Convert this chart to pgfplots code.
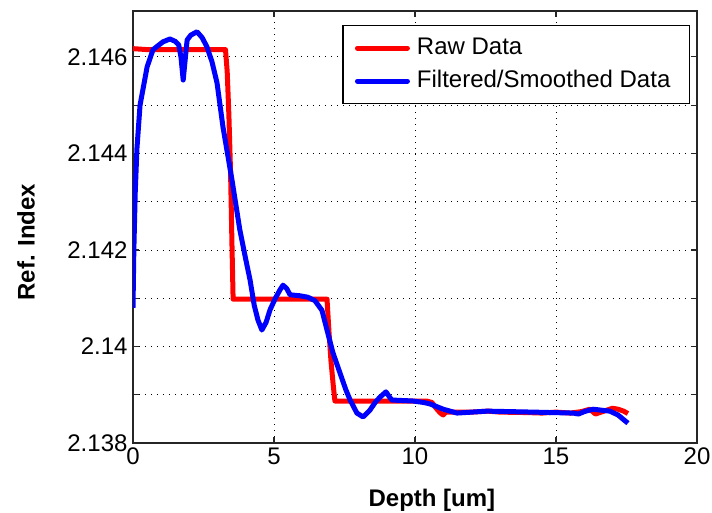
\documentclass[border=0pt]{standalone}
\usepackage{fontspec}
\setmainfont{Liberation Sans}
\setsansfont{Liberation Sans}
\usepackage{pgfplots}
\pgfplotsset{compat=1.18}
\definecolor{mred}{rgb}{1,0,0}
\definecolor{mblue}{rgb}{0,0,1}
\begin{document}
\begin{tikzpicture}
\path[use as bounding box] (-133pt,-70pt) rectangle (579pt,443pt);
\begin{axis}[
  at={(0,0)}, anchor=south west,
  scale only axis, width=564pt, height=432pt,
  xmin=0, xmax=20, ymin=2.138, ymax=2.14695,
  xtick={0,5,10,15,20},
  xticklabels={0,5,10,15,20},
  ytick={2.138,2.139,2.140,2.141,2.142,2.143,2.144,2.145,2.146},
  yticklabels={2.138,,2.14,,2.142,,2.144,,2.146},
  ymajorgrids, xmajorgrids,
  grid style={black, line width=0.8pt, dash pattern=on 1pt off 5pt},
  axis line style={black!85, line width=1.2pt},
  major tick length=6pt,
  tick style={black!85, line width=1.2pt},
  tick align=inside,
  ticklabel style={font=\fontsize{24}{28}\selectfont},
  xticklabel style={yshift=-1pt},
  yticklabel style={xshift=-2pt},
  xlabel={\textbf{Depth [um]}},
  ylabel={\textbf{Ref. Index}},
  label style={font=\fontsize{24}{28}\selectfont},
  xlabel style={at={(axis description cs:0.53,0)}, anchor=base, yshift=-64pt},
  ylabel style={at={(axis description cs:-0.1897,0.465)}, anchor=center},
  legend style={at={(axis description cs:0.9876,0.9676)}, anchor=north east,
    font=\fontsize{24}{28}\selectfont, draw=black, line width=1.2pt,
    inner xsep=12pt, inner ysep=8pt, row sep=4pt,
    nodes={inner xsep=7pt, inner ysep=3.5pt, text height=17pt, text depth=5pt}},
  legend cell align=left,
  legend image code/.code={\draw[#1, line width=5pt, line cap=round] (0pt,0pt) -- (50pt,0pt);},
]
\addplot[mred, line width=5pt, line join=round] coordinates {
(0,2.14617) (0.5,2.14615) (1.5,2.14615) (2.5,2.14615) (3.28,2.14615)
(3.34,2.1457) (3.40,2.1448) (3.46,2.1436) (3.51,2.1421) (3.55,2.14098)
(4.5,2.14098) (5.5,2.14098) (6.88,2.14098)
(6.95,2.1403) (7.02,2.1397) (7.10,2.1392) (7.16,2.13887)
(8,2.13887) (9,2.13887) (10.4,2.13887) (10.6,2.13884)
(10.75,2.13872) (10.9,2.13862) (11.0,2.13858) (11.1,2.13864)
(12,2.13864) (12.6,2.13866) (13,2.13864) (14,2.13863) (14.5,2.13862)
(15,2.13864) (15.5,2.13862) (15.9,2.13865) (16.2,2.13870) (16.4,2.13860)
(16.6,2.13864) (16.8,2.13868) (17.0,2.13872) (17.2,2.13870) (17.4,2.13866) (17.55,2.13861)
};
\addlegendentry{Raw Data}
\addplot[mblue, line width=5pt, line join=round] coordinates {
(0,2.1408) (0.03,2.1420) (0.08,2.1432) (0.14,2.1441) (0.25,2.1450)
(0.5,2.14579) (0.71,2.14615) (1.06,2.14631) (1.31,2.14637) (1.5,2.14632)
(1.62,2.14625) (1.7,2.1460) (1.78,2.14552) (1.86,2.1460) (1.92,2.14635)
(2.05,2.14645) (2.27,2.14652) (2.45,2.1464) (2.62,2.14621) (2.8,2.1459)
(2.98,2.14546) (3.19,2.14455) (3.51,2.14345) (3.79,2.14241) (4.0,2.1418)
(4.15,2.14138) (4.3,2.14085) (4.43,2.14055) (4.57,2.14034) (4.72,2.1405)
(4.86,2.14076) (5.05,2.1410) (5.21,2.14117) (5.32,2.14127) (5.45,2.1412)
(5.57,2.14107) (5.92,2.14105) (6.2,2.14102) (6.45,2.14095) (6.7,2.14075)
(6.88,2.14034) (7.09,2.13987) (7.34,2.13945) (7.55,2.1391) (7.7,2.13889)
(7.94,2.13862) (8.16,2.13854) (8.4,2.13868) (8.6,2.13885) (8.76,2.13895)
(8.97,2.13906) (9.1,2.13895) (9.18,2.13889) (9.93,2.13887) (10.3,2.13884)
(10.53,2.13881) (11.0,2.1387) (11.49,2.13862) (12.55,2.13866) (14.18,2.13864)
(15.6,2.13862) (15.8,2.13860) (16.0,2.13865) (16.31,2.1387) (16.91,2.13866)
(17.2,2.13858) (17.55,2.13841)
};
\addlegendentry{Filtered/Smoothed Data}
\end{axis}
\end{tikzpicture}
\end{document}
